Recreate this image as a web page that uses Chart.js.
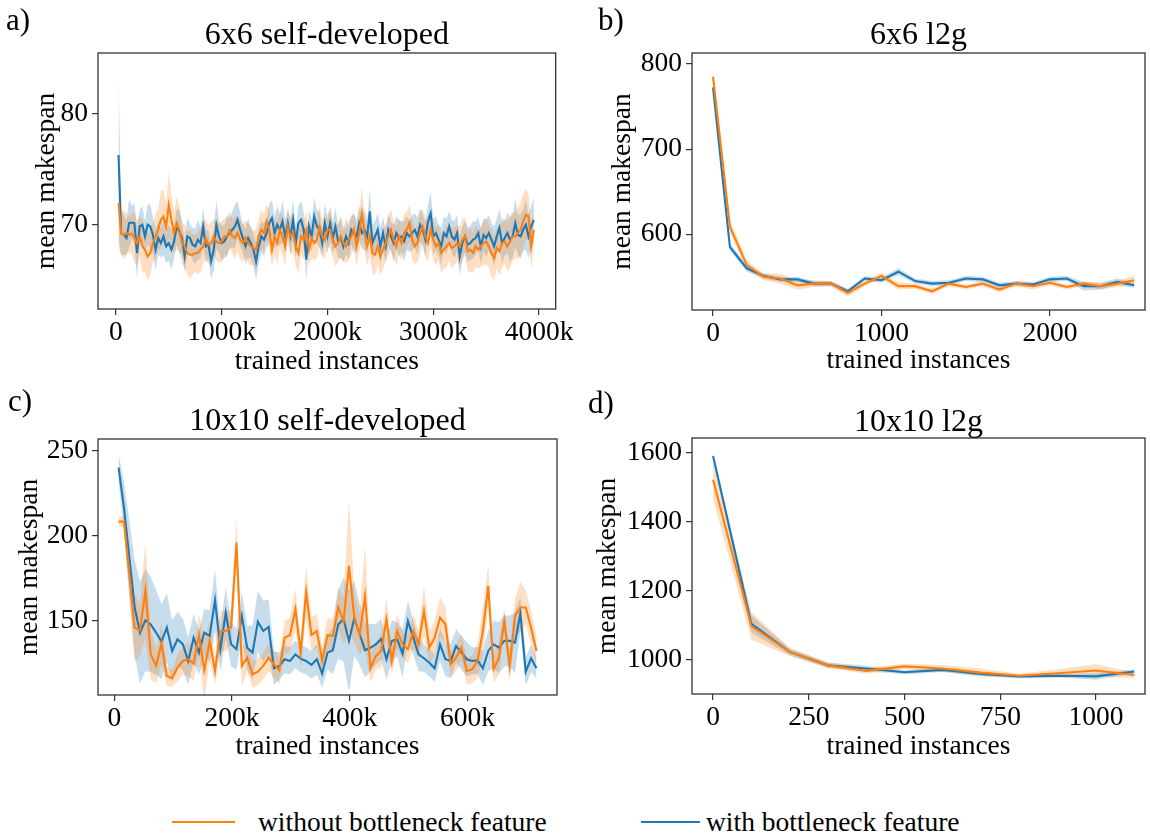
<!DOCTYPE html>
<html><head><meta charset="utf-8">
<script src="https://cdn.jsdelivr.net/npm/chart.js@4.4.1/dist/chart.umd.min.js"></script>
<style>
html,body{margin:0;padding:0;background:#fff;}
#wrap{position:relative;width:1150px;height:837px;overflow:hidden;background:#fff;font-family:"Liberation Serif","Times New Roman",serif;color:#000;}
canvas{position:absolute;}
.lab{position:absolute;font-size:31px;line-height:1;}
.leg{position:absolute;font-size:27.5px;line-height:1;white-space:nowrap;}
.legline{position:absolute;height:0;border-top:2px solid;}
</style></head><body>
<div id="wrap">
<canvas id="ca" width="575" height="380" style="left:0;top:0"></canvas>
<canvas id="cb" width="575" height="380" style="left:575px;top:0"></canvas>
<canvas id="cc" width="575" height="400" style="left:0;top:380px"></canvas>
<canvas id="cd" width="575" height="400" style="left:575px;top:380px"></canvas>
<div class="lab" style="left:6px;top:4px">a)</div>
<div class="lab" style="left:598px;top:4px">b)</div>
<div class="lab" style="left:8px;top:385px">c)</div>
<div class="lab" style="left:588px;top:387px">d)</div>
<div class="legline" style="left:172px;top:821px;width:63px;border-color:#ff7f0e"></div>
<div class="leg" style="left:258px;top:808px">without bottleneck feature</div>
<div class="legline" style="left:641px;top:821px;width:59px;border-color:#1f77b4"></div>
<div class="leg" style="left:706px;top:808px">with bottleneck feature</div>
</div>
<script>
// ---------- data ----------
const gridA = [25, 25, 158];   // start, step (k instances), count
const blueA = [76.3,69.25,69.1,68.8,70.15,70.2,70.15,67.45,69.85,70.0,
68.95,70.0,69.85,69.1,67.75,68.8,68.35,68.95,68.05,68.35,
67.75,68.5,69.85,69.4,68.8,67.15,68.95,68.8,68.2,68.05,
68.65,68.35,69.85,68.05,68.2,66.7,67.75,70.0,68.95,68.35,
68.5,68.95,69.25,69.55,69.85,70.45,69.55,68.8,68.05,68.8,
68.35,67.75,66.7,68.05,68.95,68.65,69.25,70.15,70.6,69.25,
70.0,69.55,70.3,68.95,70.15,68.95,70.45,68.35,70.15,70.45,
69.55,66.85,69.85,68.95,70.75,69.85,69.55,68.35,70.15,68.95,
70.15,68.8,69.85,68.5,68.8,68.05,68.95,68.35,69.55,69.25,
68.95,70.15,69.25,69.55,68.95,71.2,68.35,68.95,69.55,68.05,
69.25,68.05,69.55,68.95,68.35,69.25,68.8,68.95,68.5,69.25,
68.95,69.25,69.55,68.95,70.0,69.55,68.65,70.3,71.05,68.95,
69.25,68.65,68.05,69.25,68.95,69.85,68.95,68.65,69.25,67.15,
68.35,68.95,68.2,68.35,68.65,68.8,69.25,68.05,69.1,68.8,
69.25,68.65,68.05,68.95,69.7,68.35,68.8,69.25,68.65,68.95,
70.15,69.1,68.95,69.55,70.0,68.95,69.85,70.45];
const orangeA = [71.95,69.25,69.1,69.25,69.1,69.2,68.8,68.35,68.95,68.05,
67.75,67.15,67.45,68.35,68.95,69.55,70.45,70.75,69.85,71.8,
70.45,69.25,70.15,69.55,68.35,68.05,67.45,67.3,67.3,67.45,
67.45,67.75,68.05,68.8,68.2,68.35,68.95,68.5,68.35,68.5,
68.95,68.95,69.55,68.95,68.8,69.25,68.65,68.35,68.8,68.35,
68.05,67.9,67.75,68.95,69.55,69.25,70.3,69.55,67.75,68.95,
68.35,69.55,68.95,68.05,69.85,68.95,69.25,68.05,67.45,68.95,
68.65,69.55,67.75,68.8,68.35,68.65,69.85,68.95,68.65,69.55,
69.55,68.65,68.05,68.35,68.95,68.35,68.05,68.65,68.95,69.55,
68.05,69.25,71.05,69.25,68.05,68.95,67.45,67.3,68.05,67.15,
67.75,68.35,68.95,69.55,68.65,68.05,68.95,68.35,69.25,69.55,
70.15,68.65,68.05,68.35,69.25,69.85,68.95,68.35,69.55,68.65,
68.05,68.35,67.45,67.75,68.05,68.35,67.9,68.05,68.35,68.05,
68.65,68.95,67.6,67.75,67.45,68.05,67.75,68.05,68.35,68.5,
68.05,67.45,67.0,67.9,67.6,68.35,68.5,68.05,68.5,68.95,
68.95,69.25,69.55,70.3,70.9,70.75,68.05,69.55];
const blueSpreadA = [7.5,2.0,1.8,1.6,2.2,1.5,1.8,2.4,1.5,1.7,
1.4,1.8,2.0,1.6,1.9,1.5,1.3,1.7,1.5,1.6,
1.8,1.4,1.6,1.9,1.5,1.4,1.7,1.3,1.5,1.6,
1.8,1.4,1.7,1.5,1.3,1.6,1.9,2.2,1.4,1.6,
1.5,1.8,1.4,1.6,2.0,1.7,1.5,1.3,1.6,1.8,
1.4,1.5,1.7,1.6,1.4,1.5,1.3,1.8,1.6,1.5,
1.7,1.4,1.9,1.5,1.3,1.6,1.8,1.4,1.5,1.7,
1.6,1.9,1.5,1.4,1.7,1.5,1.6,1.3,1.8,1.5,
1.6,1.4,1.7,1.5,1.8,1.4,1.6,1.5,1.3,1.7,
1.5,1.6,1.4,1.8,1.5,2.0,1.6,1.4,1.5,1.7,
1.4,1.6,1.5,1.3,1.7,1.5,1.6,1.4,1.8,1.5,
1.4,1.6,1.5,1.7,1.5,1.4,1.6,1.5,1.9,1.6,
1.5,1.4,1.7,1.5,1.6,1.4,1.5,1.7,1.6,1.8,
1.5,1.4,1.6,1.5,1.7,1.5,1.4,1.6,1.5,1.7,
1.6,1.5,1.8,1.6,1.7,1.9,1.6,1.8,2.0,1.9,
2.2,1.8,2.0,1.9,2.3,2.0,1.8,2.1];
const orangeSpreadA = [4.0,2.0,2.2,1.8,1.6,1.9,2.2,2.0,1.8,2.4,
2.0,2.2,1.9,1.7,2.1,1.8,2.6,2.4,2.0,3.0,
2.2,1.9,2.4,2.1,1.8,2.0,1.9,2.2,1.8,1.7,
1.9,2.0,1.6,1.8,1.7,1.9,1.6,1.8,1.7,1.9,
1.6,1.8,1.7,1.5,1.9,1.6,1.8,1.7,1.6,1.8,
1.7,1.5,1.9,1.6,1.8,1.7,1.6,1.8,1.5,1.7,
1.9,1.6,1.8,1.7,1.5,1.6,1.8,1.7,1.9,1.6,
1.8,1.7,1.5,1.8,1.6,1.7,1.9,1.6,1.8,1.5,
1.7,1.6,1.8,1.7,1.9,1.6,1.5,1.8,1.7,1.6,
1.8,1.7,2.4,1.6,1.8,1.7,1.9,1.8,1.6,1.7,
1.8,1.6,1.7,1.9,1.6,1.8,1.7,1.5,1.8,1.6,
1.7,1.8,1.6,1.7,1.9,1.6,1.8,1.7,1.6,1.8,
1.7,1.6,1.8,1.7,1.9,1.6,1.8,1.7,1.6,1.8,
1.9,1.7,1.8,2.0,1.8,1.9,1.7,1.8,2.0,2.1,
1.9,2.2,2.0,1.9,2.1,2.3,2.0,2.2,2.4,2.2,
2.0,2.3,2.4,2.5,2.3,2.1,2.0,1.9];

const xB = [0,100,200,300,400,500,600,700,800,900,1000,1100,1200,1300,1400,1500,1600,1700,1800,1900,2000,2100,2200,2300,2400,2500];
const blueB = [772.6,585,560,551,547,547,542,542,533,548,546,556,545,542,543,548,547,540,542,541,547,548,539,539,544,540];
const orangeB = [785,609,564,550,548,540,542,542,531,542,551,539,539,533,542,538,542,535,542,539,543,538,542,539,542,546];
const blueSpreadB = [5,4,4,3,3,3,3,3,3,3,3,4,3,3,3,3,3,3,3,3,3,3,5,4,4,3];
const orangeSpreadB = [6,8,5,4,6,5,4,3,4,3,4,4,3,3,3,3,3,3,3,4,3,3,3,4,4,5];

const gridC = [7.3, 9.1, 79];
const blueC = [240.2,216.7,187.3,157.9,143.2,150.4,148.0,143.2,137.9,146.1,
132.4,139.3,136.3,126.5,140.2,131.4,143.2,141.2,162.2,133.4,
154.9,136.3,133.4,153.0,134.3,131.4,149.6,144.1,146.5,122.2,
123.6,127.5,126.5,130.4,127.9,126.5,124.2,127.5,119.1,131.4,
132.8,148,151,138.3,151.6,142.2,132.8,134.3,136.3,139.3,
127.5,138.3,139.3,130.8,150,140.2,130.4,128.1,125.5,122.2,
136.3,127.5,126.5,135.3,131.4,127.5,126.5,126.9,122.2,132.4,
136.3,134.3,138.3,138.3,137.3,154.4,120.2,128.1,122.2];
const orangeC = [208.4,208.4,177.5,146.1,144.6,168.1,130.4,123.6,136.7,117.7,
116.3,122.6,126.5,127.5,124.9,141.8,121.0,138.3,120.6,144.1,
144.1,146.1,196.1,123.6,128.5,118.7,120.2,123.6,128.5,124.6,
121.0,140.2,141.8,156.9,131.4,167.1,141.8,144.1,126.9,141.8,
141.2,158,150,182.4,152,142.2,164.7,122.2,129.4,132.4,
151,126.5,144.1,136.3,133.4,144.1,136.3,155.9,134.3,140.2,
152,148.1,124.6,128.5,134.3,120.6,121.6,126.5,144.1,170.6,
121.6,128.5,150,123.6,153,157.9,157.9,146.1,132.4];
const blueSpreadC = [8,15,22,28,30,30,28,25,22,20,
18,16,15,14,14,13,14,15,18,13,
15,13,12,14,13,16,18,18,16,10,
8,8,8,8,8,8,8,9,8,10,
14,20,25,30,22,18,16,14,12,12,
12,12,10,14,12,10,10,8,8,8,
10,10,10,10,10,10,8,8,10,12,
14,15,15,15,18,10,8,8,6];
const orangeSpreadC = [3,3,15,20,15,28,15,10,12,6,
5,8,8,10,10,12,18,12,8,12,
12,10,14,12,8,8,8,8,8,8,
8,10,10,12,8,15,10,10,8,10,
10,12,14,38,15,12,30,8,8,10,
12,8,10,8,8,10,8,15,10,10,
12,10,8,8,8,8,8,10,15,12,
8,10,8,10,10,15,10,10,8];

const xD = [0,100,200,300,400,500,600,700,800,900,1000,1100];
const blueD = [1591,1104,1023,984,975,964,971,959,952,954,952,966];
const orangeD = [1522,1098,1023,984,968,981,975,963,954,961,969,956];
const blueSpreadD = [8,25,10,8,8,6,6,6,5,5,10,6];
const orangeSpreadD = [55,40,12,8,8,8,10,12,6,12,18,8];

const ticksXA = [0,1000,2000,3000,4000], ticksYA = [70,80];
const ticksXB = [0,1000,2000], ticksYB = [600,700,800];
const ticksXC = [0,200,400,600], ticksYC = [150,200,250];
const ticksXD = [0,250,500,750,1000], ticksYD = [1000,1200,1400,1600];

const titles = ['6x6 self-developed','6x6 l2g','10x10 self-developed','10x10 l2g'];
const xLabel = 'trained instances', yLabel = 'mean makespan';

// ---------- drawing ----------
const FAM = '"Liberation Serif","Times New Roman",serif';
const BL = '#1f77b4', OR = '#ff7f0e';
const BLF = 'rgba(31,119,180,0.25)', ORF = 'rgba(255,127,14,0.25)';
const TICK = 27.5, LBL = 27.5, TTL = 32;
const grid = g => Array.from({length: g[2]}, (_, i) => +(g[0] + g[1] * i).toFixed(2));
const kfmt = v => v === 0 ? '0' : v + 'k';
const plain = v => String(v);

const boxPlugin = {
  id: 'box',
  afterDraw(chart, args, o) {
    const {ctx, chartArea: a} = chart;
    ctx.save();
    ctx.strokeStyle = '#333'; ctx.lineWidth = 1.3;
    ctx.strokeRect(a.left, a.top, a.right - a.left, a.bottom - a.top);
    ctx.fillStyle = '#000';
    ctx.font = o.size + 'px ' + FAM;
    ctx.textAlign = 'center'; ctx.textBaseline = 'alphabetic';
    ctx.fillText(o.title, (a.left + a.right) / 2, o.y);
    ctx.restore();
  }
};

function panel(id, p) {
  const pts = (ys) => p.x.map((x, i) => ({x, y: ys[i]}));
  const none = 'rgba(0,0,0,0)';
  const line = (ys, c, ord) => ({data: pts(ys), borderColor: c, borderWidth: 2.1, pointRadius: 0, fill: false, order: ord, tension: 0});
  const band = (ys, c, ord, f) => ({data: pts(ys), borderColor: none, borderWidth: 0, pointRadius: 0, fill: f, backgroundColor: c, order: ord});
  const datasets = [
    line(p.orange, OR, 0),
    line(p.blue, BL, 1),
    band(p.blue.map((v, i) => v - p.bs[i]), none, 3, false),
    band(p.blue.map((v, i) => v + p.bs[i]), BLF, 3, '-1'),
    band(p.orange.map((v, i) => v - p.os[i]), none, 2, false),
    band(p.orange.map((v, i) => v + p.os[i]), ORF, 2, '-1')
  ];
  new Chart(document.getElementById(id), {
    type: 'line',
    data: {datasets},
    plugins: [boxPlugin],
    options: {
      responsive: false, animation: false, devicePixelRatio: 1,
      layout: {padding: {top: p.top, right: p.right, left: 0, bottom: 0}},
      plugins: {legend: {display: false}, tooltip: {enabled: false}, title: {display: false},
        box: {title: p.title, y: p.titleY, size: TTL}},
      scales: {
        x: {type: 'linear', min: p.xmin, max: p.xmax,
          afterBuildTicks: s => { s.ticks = p.xt.map(v => ({value: v})); },
          afterFit: s => { s.height = p.xh; },
          ticks: {callback: p.xfmt, font: {family: FAM, size: TICK}, color: '#000', padding: 1, maxRotation: 0, autoSkip: false},
          grid: {display: true, drawOnChartArea: false, drawTicks: true, tickLength: 6, color: '#333', lineWidth: 1.2},
          border: {display: false},
          title: {display: true, text: xLabel, font: {family: FAM, size: LBL}, color: '#000', padding: {top: 0, bottom: p.xtpb}}
        },
        y: {type: 'linear', min: p.ymin, max: p.ymax,
          afterBuildTicks: s => { s.ticks = p.yt.map(v => ({value: v})); },
          afterFit: s => { s.width = p.yw; },
          ticks: {callback: plain, font: {family: FAM, size: TICK}, color: '#000', padding: 4, autoSkip: false},
          grid: {display: true, drawOnChartArea: false, drawTicks: true, tickLength: 6, color: '#333', lineWidth: 1.2},
          border: {display: false},
          title: {display: true, text: yLabel, font: {family: FAM, size: LBL}, color: '#000', padding: {top: p.ytpt, bottom: 0}}
        }
      }
    }
  });
}

panel('ca', {x: grid(gridA), blue: blueA, orange: orangeA, bs: blueSpreadA, os: orangeSpreadA,
  title: titles[0], titleY: 44, top: 53, right: 15, xh: 71, yw: 98, xtpb: 1.5, ytpt: 30,
  xmin: -169, xmax: 4157, ymin: 62.4, ymax: 85.5, xt: ticksXA, yt: ticksYA, xfmt: kfmt});
panel('cb', {x: xB, blue: blueB, orange: orangeB, bs: blueSpreadB, os: orangeSpreadB,
  title: titles[1], titleY: 44, top: 53, right: 5, xh: 70, yw: 117, xtpb: 2.5, ytpt: 31,
  xmin: -125, xmax: 2564, ymin: 511, ymax: 813, xt: ticksXB, yt: ticksYB, xfmt: plain});
panel('cc', {x: grid(gridC), blue: blueC, orange: orangeC, bs: blueSpreadC, os: orangeSpreadC,
  title: titles[2], titleY: 50, top: 59, right: 18, xh: 85, yw: 98, xtpb: 16.5, ytpt: 13,
  xmin: -27.7, xmax: 752, ymin: 106.5, ymax: 257, xt: ticksXC, yt: ticksYC, xfmt: kfmt});
panel('cd', {x: xD, blue: blueD, orange: orangeD, bs: blueSpreadD, os: orangeSpreadD,
  title: titles[3], titleY: 51, top: 58, right: 5, xh: 86, yw: 117, xtpb: 16.5, ytpt: 16,
  xmin: -55, xmax: 1128, ymin: 901, ymax: 1643, xt: ticksXD, yt: ticksYD, xfmt: plain});
</script>
</body></html>
